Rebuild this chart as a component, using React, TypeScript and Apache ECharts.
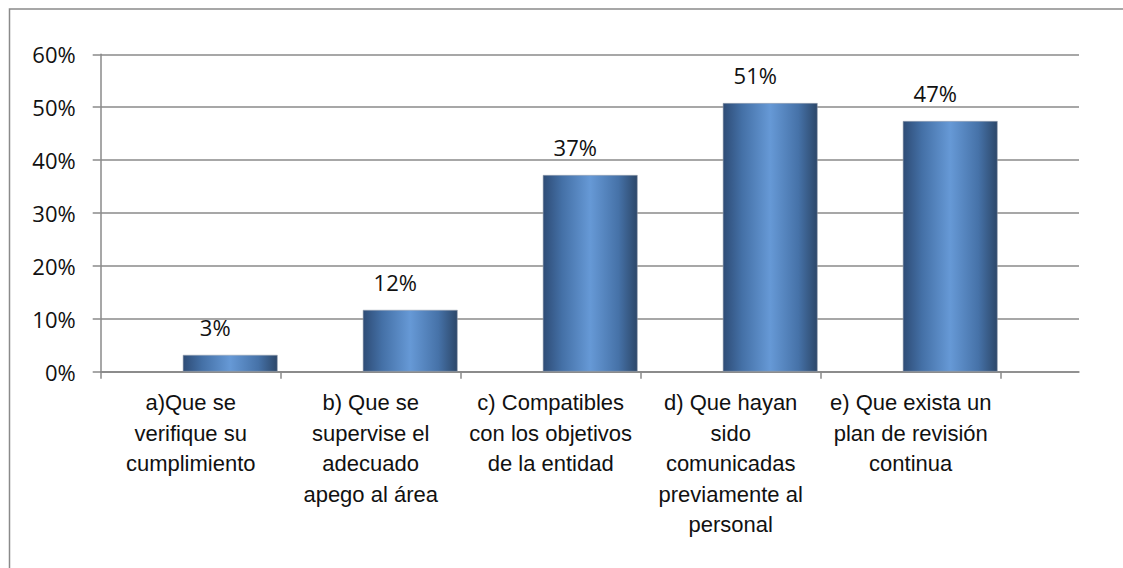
import React, { useEffect, useRef } from "react";
import * as echarts from "echarts";

const categories: string[] = [
  "a)Que se\nverifique su\ncumplimiento",
  "b) Que se\nsupervise el\nadecuado\napego al área",
  "c) Compatibles\ncon los objetivos\nde la entidad",
  "d) Que hayan\nsido\ncomunicadas\npreviamente al\npersonal",
  "e) Que exista un\nplan de revisión\ncontinua",
];
const values: number[] = [3.2, 11.7, 37.2, 50.8, 47.4];
const yTicks = { min: 0, max: 60, interval: 10 };

export default function App() {
  const ref = useRef<HTMLDivElement>(null);
  useEffect(() => {
    if (!ref.current) return;
    const chart = echarts.init(ref.current, undefined, { renderer: "svg" });
    const gray = "#8a8a8a";
    const plotLeft = 100.7;
    const plotTop = 54.3;
    const plotH = 317.4;
    chart.setOption({
      animation: false,
      backgroundColor: "#ffffff",
      graphic: [
        {
          type: "rect",
          shape: { x: 9.5, y: 9, width: 1400, height: 800 },
          style: { fill: "none", stroke: gray, lineWidth: 1.5 },
          silent: true,
        },
      ],
      grid: [
        { left: plotLeft, top: plotTop, width: 978.3, height: plotH },
        { left: plotLeft, top: plotTop, width: 900, height: plotH },
      ],
      xAxis: [
        {
          type: "value",
          gridIndex: 0,
          min: 0,
          max: 1,
          axisLine: { show: true, onZero: false, lineStyle: { color: gray, width: 1.5 } },
          axisTick: { show: false },
          axisLabel: { show: false },
          splitLine: { show: false },
        },
        {
          type: "category",
          gridIndex: 1,
          data: categories,
          axisLine: { show: true, lineStyle: { color: gray, width: 1.5 } },
          axisTick: { show: true, length: 7, lineStyle: { color: gray, width: 1.5 } },
          axisLabel: {
            interval: 0,
            margin: 16,
            fontFamily: "Liberation Sans",
            fontSize: 22,
            lineHeight: 30.5,
            color: "#111",
            align: "center",
          },
        },
      ],
      yAxis: [
        {
          type: "value",
          gridIndex: 0,
          min: yTicks.min,
          max: yTicks.max,
          interval: yTicks.interval,
          axisLine: { show: true, lineStyle: { color: gray, width: 1.5 } },
          axisTick: { show: true, length: 8, lineStyle: { color: gray, width: 1.5 } },
          axisLabel: {
            formatter: "{value}%",
            margin: 25,
            fontFamily: "Open Sans",
            fontSize: 22,
            color: "#111",
          },
          splitLine: { show: true, lineStyle: { color: gray, width: 1.5 } },
        },
        {
          type: "value",
          gridIndex: 1,
          min: yTicks.min,
          max: yTicks.max,
          interval: yTicks.interval,
          show: false,
        },
      ],
      series: [
        {
          type: "bar",
          xAxisIndex: 1,
          yAxisIndex: 1,
          data: values.map(() => null),
          barWidth: 95,
          barGap: "-16.8%",
          silent: true,
        },
        {
          type: "bar",
          xAxisIndex: 1,
          yAxisIndex: 1,
          data: values,
          barWidth: 95,
          barGap: "-16.8%",
          itemStyle: {
            color: {
              type: "linear",
              x: 0,
              y: 0,
              x2: 1,
              y2: 0,
              colorStops: [
                { offset: 0, color: "#2e4c76" },
                { offset: 0.2, color: "#4470a6" },
                { offset: 0.5, color: "#6699d6" },
                { offset: 0.8, color: "#4672a8" },
                { offset: 1, color: "#2c4769" },
              ],
            },
            borderColor: "rgba(150,160,175,0.7)",
            borderWidth: 0.8,
          },
          label: {
            show: true,
            position: "top",
            distance: 17,
            offset: [-15, 0],
            fontFamily: "Open Sans",
            fontSize: 22,
            color: "#111",
            formatter: (p: any) => Math.round(p.value) + "%",
          },
        },
      ],
    });
    return () => chart.dispose();
  }, []);
  return (
    <div
      ref={ref}
      style={{ position: "fixed", left: 0, top: 0, width: 1123, height: 568 }}
    />
  );
}
